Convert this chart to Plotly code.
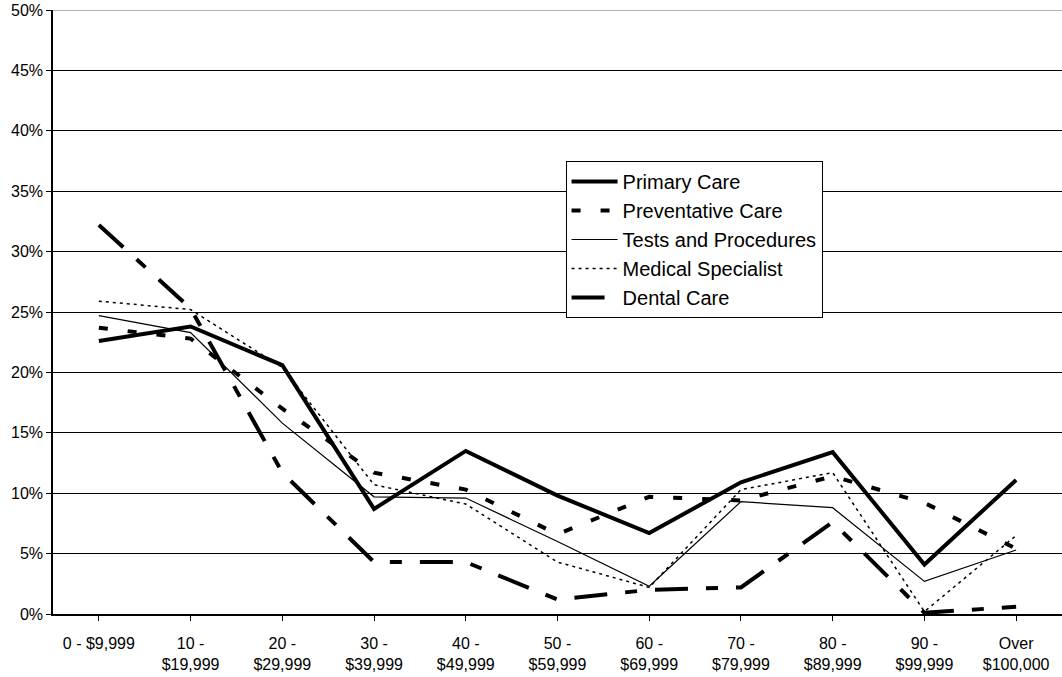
import plotly.graph_objects as go

# Household income brackets (x-axis categories)
categories = [
    "0 - $9,999", "10 -<br>$19,999", "20 -<br>$29,999", "30 -<br>$39,999",
    "40 -<br>$49,999", "50 -<br>$59,999", "60 -<br>$69,999", "70 -<br>$79,999",
    "80 -<br>$89,999", "90 -<br>$99,999", "Over<br>$100,000",
]

# Share of respondents (%) per service type
primary_care = [22.6, 23.8, 20.6, 8.7, 13.5, 9.8, 6.7, 10.9, 13.4, 4.1, 11.1]
preventative_care = [23.7, 22.8, 17.0, 11.7, 10.3, 6.6, 9.7, 9.4, 11.4, 9.2, 5.4]
tests_procedures = [24.7, 23.3, 15.8, 9.7, 9.6, 6.0, 2.3, 9.3, 8.8, 2.7, 5.3]
medical_specialist = [25.9, 25.2, 20.4, 10.7, 9.1, 4.3, 2.2, 10.3, 11.7, 0.2, 6.5]
dental_care = [32.2, 25.3, 11.7, 4.3, 4.3, 1.2, 2.0, 2.2, 7.6, 0.1, 0.6]

y_ticks = [0, 5, 10, 15, 20, 25, 30, 35, 40, 45, 50]

series = [
    ("Primary Care", primary_care, dict(color="black", width=4, dash="solid")),
    ("Preventative Care", preventative_care, dict(color="black", width=4, dash="9px,20px")),
    ("Tests and Procedures", tests_procedures, dict(color="black", width=1.2, dash="solid")),
    ("Medical Specialist", medical_specialist, dict(color="black", width=1.5, dash="3px,4px")),
    ("Dental Care", dental_care, dict(color="black", width=4, dash="33px,18px,12px,18px")),
]

fig = go.Figure()
for i, (name, vals, line) in enumerate(series):
    fig.add_trace(go.Scatter(
        x=list(range(len(categories))), y=vals, name=name, mode="lines",
        line=line, legendgroup=f"g{i}",
    ))

font_family = "Liberation Sans, Arial, sans-serif"

# grey frame line along the top of the plotting area
fig.add_shape(type="line", xref="paper", x0=0, x1=1, yref="y", y0=50, y1=50,
              line=dict(color="#9a9a9a", width=1.5), layer="above")

fig.update_layout(
    width=1062, height=677,
    margin=dict(l=53, r=0, t=10, b=63),
    paper_bgcolor="white", plot_bgcolor="white",
    font=dict(family=font_family, size=16, color="black"),
    showlegend=True,
    legend=dict(
        x=0.508, y=0.750, xanchor="left", yanchor="top",
        bgcolor="white", bordercolor="black", borderwidth=1,
        font=dict(family=font_family, size=20, color="black"),
        tracegroupgap=5, traceorder="normal", itemwidth=46,
    ),
    xaxis=dict(
        range=[-0.5, len(categories) - 0.5],
        tickmode="array", tickvals=list(range(len(categories))), ticktext=categories,
        tickson="boundaries", ticks="outside", ticklen=5, tickcolor="black",
        showline=True, linecolor="black", linewidth=1.5,
        showgrid=False, zeroline=False,
        tickfont=dict(size=16), ticklabelstandoff=9,
    ),
    yaxis=dict(
        range=[0, 50],
        tickmode="array", tickvals=y_ticks, ticktext=[f"{v}%" for v in y_ticks],
        ticks="outside", ticklen=5, tickcolor="black",
        showline=True, linecolor="black", linewidth=1.5,
        showgrid=True, gridcolor="black", gridwidth=1,
        zeroline=False,
        tickfont=dict(size=16),
    ),
)

fig.write_html("out.html")
